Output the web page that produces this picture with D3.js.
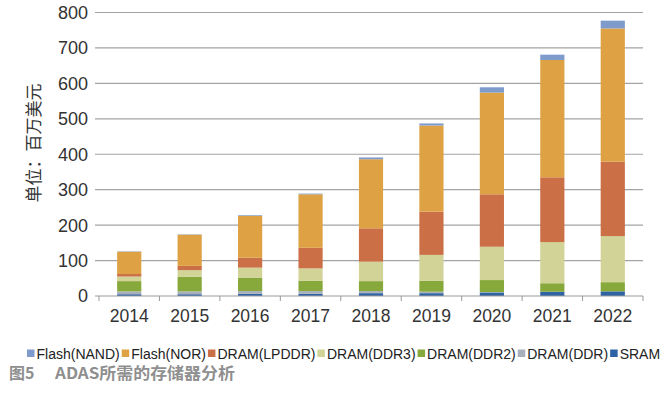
<!DOCTYPE html>
<html><head><meta charset="utf-8">
<script src="https://cdn.jsdelivr.net/npm/d3@7"></script>
<style>html,body{margin:0;padding:0;background:#fff;}</style>
</head><body>
<svg id="c" width="668" height="394"></svg>
<script>
const years = ["2014","2015","2016","2017","2018","2019","2020","2021","2022"];
const SRAM  = [5,5,6,6,8,8,10,12,13];
const DDR   = [8,8,8,8,6,4,1,0,0];
const DDR2  = [29,41,38,29,28,31,34,24,26];
const DDR3  = [13,19,28,35,55,73,94,116,130];
const LPDDR = [7,12,28,58,94,122,148,183,210];
const NOR   = [63,88,118,151,195,243,287,331,376];
const NAND  = [1,1,2,2,5,6,15,15,22];
const seriesNames = ["SRAM","DRAM(DDR)","DRAM(DDR2)","DRAM(DDR3)","DRAM(LPDDR)","Flash(NOR)","Flash(NAND)"];
const seriesValues = [SRAM,DDR,DDR2,DDR3,LPDDR,NOR,NAND];
const colors = ["#2e63a6","#a7b0bb","#87a83a","#d1d397","#cb6f46","#dea244","#7f9bcb"];
const yTicks = [0,100,200,300,400,500,600,700,800];
const legendOrder = ["Flash(NAND)","Flash(NOR)","DRAM(LPDDR)","DRAM(DDR3)","DRAM(DDR2)","DRAM(DDR)","SRAM"];

const svg = d3.select("#c");
const x = d3.scaleBand().domain(years).range([99,643]).paddingInner(0.6).paddingOuter(0.3);
const y = d3.scaleLinear().domain([0,800]).range([296,12.5]);

// gridlines
svg.append("g").selectAll("line").data(yTicks.filter(d=>d>0)).join("line")
  .attr("x1",95).attr("x2",643).attr("y1",d=>y(d)).attr("y2",d=>y(d))
  .attr("stroke","#a3a3a3").attr("stroke-width",1.2);

// y labels
svg.append("g").selectAll("text").data(yTicks).join("text")
  .attr("x",88).attr("y",d=>y(d)).attr("dy","0.36em").attr("text-anchor","end")
  .attr("font-family","Liberation Sans, Arial, sans-serif").attr("font-size",18).attr("fill","#333")
  .text(d=>d);

// stacked bars
const table = years.map((yr,i)=>{const o={year:yr}; seriesNames.forEach((s,k)=>o[s]=seriesValues[k][i]); return o;});
const stacked = d3.stack().keys(seriesNames)(table);
svg.append("g").selectAll("g").data(stacked).join("g").attr("fill",(d,i)=>colors[i])
  .selectAll("rect").data(d=>d).join("rect")
  .attr("x",d=>x(d.data.year)).attr("width",x.bandwidth())
  .attr("y",d=>y(d[1])).attr("height",d=>Math.max(0,y(d[0])-y(d[1])));

// x axis
svg.append("line").attr("x1",95).attr("x2",643).attr("y1",296).attr("y2",296).attr("stroke","#999").attr("stroke-width",1.2);
const step = x.step();
svg.append("g").selectAll("line").data(d3.range(years.length+1)).join("line")
  .attr("x1",d=>99+d*step).attr("x2",d=>99+d*step).attr("y1",296).attr("y2",301)
  .attr("stroke","#999").attr("stroke-width",1);
svg.append("g").selectAll("text").data(years).join("text")
  .attr("x",d=>x(d)+x.bandwidth()/2).attr("y",322).attr("text-anchor","middle")
  .attr("font-family","Liberation Sans, Arial, sans-serif").attr("font-size",17.5).attr("fill","#333")
  .text(d=>d);

// y axis title
svg.append("text").attr("transform","translate(40,143) rotate(-90)").attr("text-anchor","middle")
  .attr("font-family","Noto Sans CJK SC, sans-serif").attr("font-size",17).attr("fill","#333")
  .text("单位：百万美元");

// legend
const lg = svg.append("g");
let lx = 27;
legendOrder.forEach(name=>{
  const k = seriesNames.indexOf(name);
  lg.append("rect").attr("x",lx).attr("y",349.5).attr("width",7.5).attr("height",7.5).attr("fill",colors[k]);
  const t = lg.append("text").attr("x",lx+9.5).attr("y",358.5).attr("font-family","Liberation Sans, Arial, sans-serif")
    .attr("font-size",14).attr("fill","#222").text(name);
  lx += 9.5 + t.node().getComputedTextLength() + 2;
});

// caption
svg.append("text").attr("x",9).attr("y",379).attr("font-family","Noto Sans CJK SC, sans-serif")
  .attr("font-weight","bold").attr("font-size",16).attr("fill","#8f8f8f").text("图5");
svg.append("text").attr("x",55).attr("y",379).attr("font-family","Noto Sans CJK SC, sans-serif")
  .attr("font-weight","bold").attr("font-size",16).attr("fill","#8f8f8f")
  .attr("textLength",180).attr("lengthAdjust","spacingAndGlyphs").text("ADAS所需的存储器分析");
</script>
</body></html>
